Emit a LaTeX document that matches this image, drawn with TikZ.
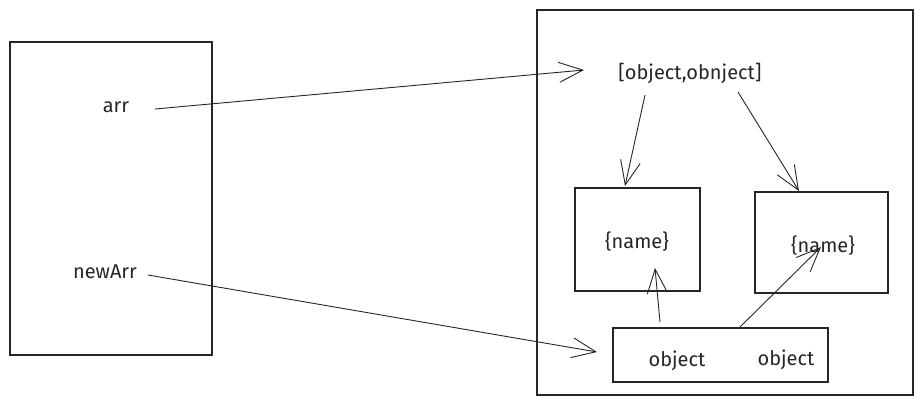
\documentclass[tikz,border=0pt]{standalone}
\usepackage{fontspec}
\setmainfont{Fira Sans}
\usetikzlibrary{arrows.meta}
\begin{document}
\begin{tikzpicture}[x=1pt,y=-1pt,
  box/.style={draw=black!85,line width=1.1pt},
  lbl/.style={font=\fontsize{20}{24}\selectfont,text=black!85,inner sep=0pt},
  arr/.style={draw=black!85,line width=0.9pt,-{Straight Barb[length=24pt,width=20pt,line width=0.9pt]}}]
\useasboundingbox (0,0) rectangle (924,405);
% boxes
\draw[box] (10,42) rectangle (212,355);
\draw[box] (537,10) rectangle (913,395);
\draw[box] (575,188) rectangle (700,291);
\draw[box] (755,192) rectangle (888,293);
\draw[box] (613,328) rectangle (828,382);
% labels
\node[lbl] (arrl) at (116,107) {arr};
\node[lbl] (newarr) at (105,272) {newArr};
\node[lbl] (list) at (690,73) {[object,obnject]};
\node[lbl] (name1) at (637,241) {\{name\}};
\node[lbl] (name2) at (823,245) {\{name\}};
\node[lbl] (obj1) at (677,361) {object};
\node[lbl] (obj2) at (786,360) {object};
% anchor coordinates
\coordinate (a1s) at (155,109);
\coordinate (a1e) at (584,70);
\coordinate (a2s) at (148,275);
\coordinate (a2e) at (597,352);
\coordinate (a3s) at (645,95);
\coordinate (a3e) at (625,186);
\coordinate (a4s) at (738,92);
\coordinate (a4e) at (799,191);
\coordinate (a5s) at (660,322);
\coordinate (a5e) at (655,268);
\coordinate (a6s) at (740,327);
\coordinate (a6e) at (821,247);
\draw[arr] (a1s) -- (a1e);
\draw[arr] (a2s) -- (a2e);
\draw[arr] (a3s) -- (a3e);
\draw[arr] (a4s) -- (a4e);
\draw[arr] (a5s) -- (a5e);
\draw[arr] (a6s) -- (a6e);
\end{tikzpicture}
\end{document}
